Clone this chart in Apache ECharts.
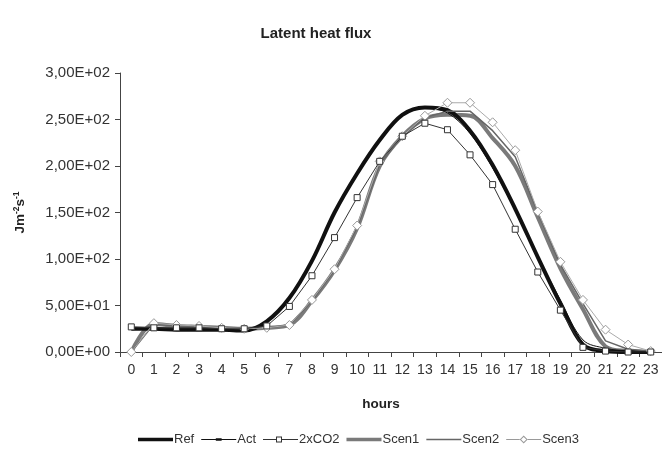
<!DOCTYPE html>
<html>
<head>
<meta charset="utf-8">
<script src="https://cdn.jsdelivr.net/npm/echarts@6/dist/echarts.min.js"></script>
<style>html,body{margin:0;padding:0;background:#fff}#c{width:662px;height:452px}</style>
</head>
<body>
<div id="c"></div>
<script>
const hours = ['0','1','2','3','4','5','6','7','8','9','10','11','12','13','14','15','16','17','18','19','20','21','22','23'];
const ref   = [25,25,24,24,24,23,33,58,98,150,192,228,255,263,260,238,201,154,102,52,8,1,0,0];
const act   = [25,25,24,24,24,23,32,57,97,149,191,227,254,262,257,235,198,152,103,56,13,4,1,0];
const co2   = [27,26,26,26,25,25,28,49,82,123,166,205,232,246,239,212,180,132,86,45,5,1,0,0];
const scen1 = [0,30,28,27,26,25,26,29,55,88,133,200,232,251,255,254,230,200,145,90,46,6,1,0];
const scen2 = [0,30,28,27,26,25,26,29,55,88,134,202,232,252,259,259,238,210,150,94,52,12,3,1];
const scen3 = [0,31,29,28,26,25,26,29,56,89,136,205,232,254,268,268,247,217,151,97,56,24,8,1];

function fmtE(v){
  if (v === 0) return '0,00E+00';
  const e = Math.floor(Math.log10(v));
  const m = (v / Math.pow(10, e)).toFixed(2).replace('.', ',');
  return m + 'E+' + (e < 10 ? '0' + e : '' + e);
}

const chart = echarts.init(document.getElementById('c'), null, {renderer:'canvas'});
const font = 'Liberation Sans, Arial, sans-serif';
chart.setOption({
  animation:false,
  backgroundColor:'#fff',
  title:{text:'Latent heat flux', left:311, top:21, textAlign:'center',
    textStyle:{fontFamily:font, fontSize:15, fontWeight:'bold', color:'#222'}},
  grid:{left:120, top:73, width:545, height:279},
  legend:{left:133, top:428, itemWidth:35, itemHeight:8, itemGap:7,
    textStyle:{fontFamily:font, fontSize:13, color:'#333', padding:[0,0,0,-4]},
    data:[
      {name:'Ref', icon:'path://M0,0H36V3.5H0Z', itemStyle:{color:'#111', borderWidth:0}},
      {name:'Act', icon:'path://M0,1.2H36V2.2H0Z M15,0.5H21V2.9H15Z', itemStyle:{color:'#111', borderWidth:0}},
      {name:'2xCO2', icon:'path://M0,3.5H13V4.5H0Z M13,1H19V7H13Z M14,2V6H18V2Z M19,3.5H35V4.5H19Z', itemStyle:{color:'#333', borderWidth:0}},
      {name:'Scen1', icon:'path://M0,0H36V3.5H0Z', itemStyle:{color:'#7a7a7a', borderWidth:0}},
      {name:'Scen2', icon:'path://M0,0H36V1.3H0Z', itemStyle:{color:'#666', borderWidth:0}},
      {name:'Scen3', icon:'path://M0,3.6H13.5V4.4H0Z M17.5,0L21.5,4L17.5,8L13.5,4Z M17.5,1.4L14.9,4L17.5,6.6L20.1,4Z M21.5,3.6H35V4.4H21.5Z', itemStyle:{color:'#999', borderWidth:0}}
    ]},
  xAxis:{type:'category', data:hours, boundaryGap:true,
    name:'hours', nameLocation:'middle', nameGap:45,
    nameTextStyle:{fontFamily:font, fontSize:13.5, fontWeight:'bold', color:'#222', padding:[0,20,0,0]},
    axisLine:{lineStyle:{color:'#444', width:1}},
    axisTick:{show:true, length:5, lineStyle:{color:'#444'}},
    axisLabel:{fontFamily:font, fontSize:14, color:'#333', margin:11, interval:0}},
  yAxis:{type:'value', min:0, max:300, interval:50,
    name:'{b|Jm}{s|-2}{b|s}{s|-1}', nameLocation:'middle', nameGap:92, nameRotate:90,
    nameTextStyle:{rich:{
      b:{fontFamily:font, fontSize:13.5, fontWeight:'bold', color:'#222'},
      s:{fontFamily:font, fontSize:8.5, fontWeight:'bold', color:'#222', padding:[0,0,7,0]}}},
    splitLine:{show:false},
    axisLine:{show:true, lineStyle:{color:'#444', width:1}},
    axisTick:{show:true, length:5, lineStyle:{color:'#444'}},
    axisLabel:{fontFamily:font, fontSize:15, color:'#333', margin:10, formatter:fmtE}},
  series:[
    {name:'Ref', type:'line', data:ref, smooth:0.35, symbol:'none', z:3,
      lineStyle:{color:'#111', width:4}, itemStyle:{color:'#111'}},
    {name:'Act', type:'line', data:act, smooth:0.35, symbol:'rect', symbolSize:[5,1.5], showSymbol:false, z:4,
      lineStyle:{color:'#111', width:1}, itemStyle:{color:'#111'}},
    {name:'2xCO2', type:'line', data:co2, symbol:'rect', symbolSize:6, z:6,
      lineStyle:{color:'#333', width:1}, itemStyle:{color:'#fff', borderColor:'#333', borderWidth:1}},
    {name:'Scen1', type:'line', data:scen1, smooth:0.35, symbol:'none', z:2,
      lineStyle:{color:'#7a7a7a', width:4}, itemStyle:{color:'#7a7a7a'}},
    {name:'Scen2', type:'line', data:scen2, symbol:'none', z:3,
      lineStyle:{color:'#666', width:1.5}, itemStyle:{color:'#666'}},
    {name:'Scen3', type:'line', data:scen3, symbol:'diamond', symbolSize:9, z:5,
      lineStyle:{color:'#aaa', width:1}, itemStyle:{color:'#fff', borderColor:'#999', borderWidth:1}}
  ]
});
</script>
</body>
</html>
